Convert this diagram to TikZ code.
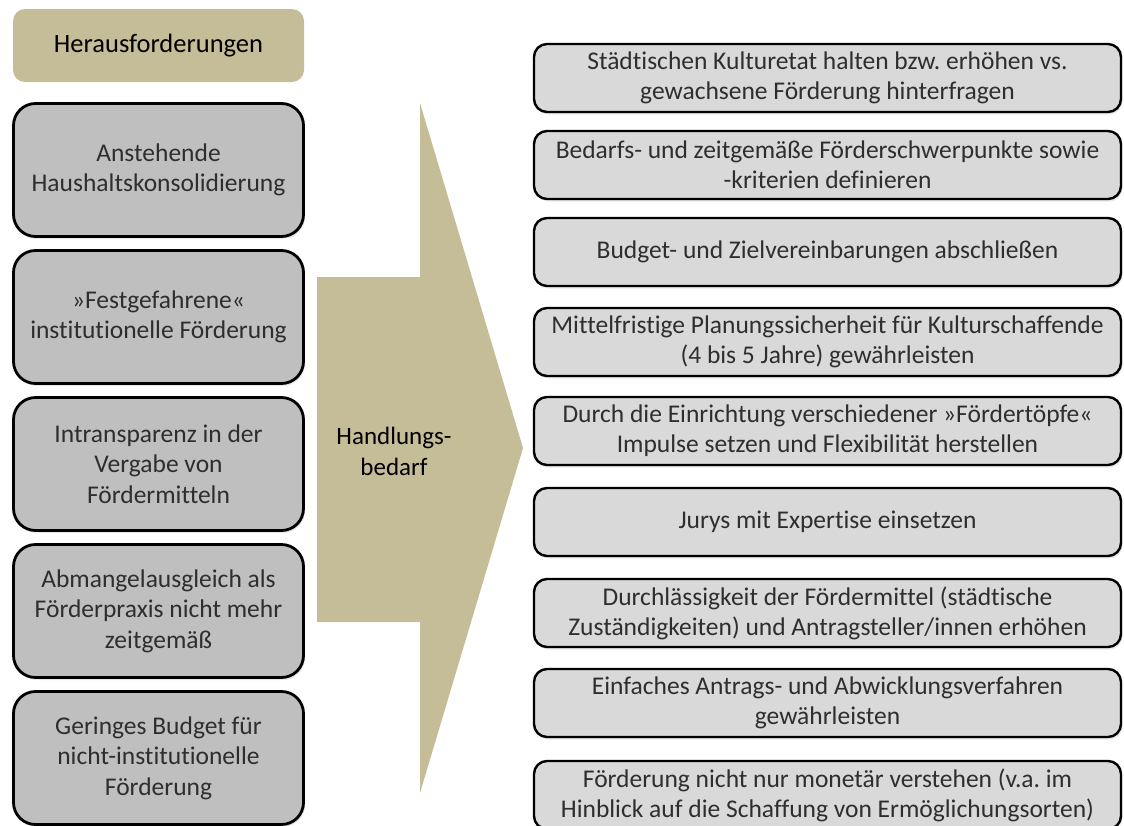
\documentclass[tikz,border=0pt]{standalone}
\usepackage{fontspec}
\setmainfont{Carlito}[Ligatures=NoCommon]
\frenchspacing
\usetikzlibrary{shadows}
\definecolor{headtan}{HTML}{C4BD97}
\definecolor{leftgray}{HTML}{BFBFBF}
\definecolor{rightgray}{HTML}{D9D9D9}
\definecolor{boxtext}{HTML}{2E2E2E}
\tikzset{
  headbox/.style={fill=headtan, rounded corners=12pt, minimum width=291pt, minimum height=73pt,
    inner sep=0pt, font=\fontsize{26.5}{30}\selectfont},
  leftbox/.style={draw=black, line width=2.8pt, fill=leftgray, rounded corners=22pt,
    minimum width=290pt, minimum height=133pt, inner sep=0pt, align=center, text=boxtext,
    font=\fontsize{25.5}{30.5}\selectfont,
    drop shadow={shadow xshift=1.5pt, shadow yshift=-2.5pt, opacity=0.18}},
  rightbox/.style={draw=black, line width=2.4pt, fill=rightgray, rounded corners=13pt,
    minimum width=587pt, minimum height=68pt, inner sep=0pt, align=center, text=boxtext,
    font=\fontsize{25.5}{30}\selectfont,
    drop shadow={shadow xshift=1.5pt, shadow yshift=-2.5pt, opacity=0.18}},
}

\begin{document}
\begin{tikzpicture}[x=1pt, y=-1pt, line join=round]
    \useasboundingbox (0,0) rectangle (1124,825);
    \clip (0,0) rectangle (1124,825);

    \node[headbox] (head) at (158.5,45.5) {Herausforderungen};

    \foreach \t [count=\i] in {
      {Anstehende\\Haushaltskonsolidierung},
      {»Festgefahrene«\\institutionelle Förderung},
      {Intransparenz in der\\Vergabe von\\Fördermitteln},
      {Abmangelausgleich als\\Förderpraxis nicht mehr\\zeitgemäß},
      {Geringes Budget für\\nicht-institutionelle\\Förderung}}
    {
    \node[leftbox] (l\i) at (158.5,{170+147*(\i-1)}) {\t};
    }

    \fill[headtan] (317,277) -- (420,277) -- (420,103) -- (523,448)
        -- (420,793) -- (420,622) -- (317,622) -- cycle;
    \node[align=center, font=\fontsize{25}{31}\selectfont] (need) at (394,451) {Handlungs-\\bedarf};

    \foreach \y/\t [count=\i] in {
      78/{Städtischen Kulturetat halten bzw. erhöhen vs.\\gewachsene Förderung hinterfragen},
      165/{Bedarfs- und zeitgemäße Förderschwerpunkte sowie\\-kriterien definieren},
      252/{Budget- und Zielvereinbarungen abschließen},
      342/{Mittelfristige Planungssicherheit für Kulturschaffende\\(4 bis 5 Jahre) gewährleisten},
      431/{Durch die Einrichtung verschiedener »Fördertöpfe«\\Impulse setzen und Flexibilität herstellen},
      522/{Jurys mit Expertise einsetzen},
      613/{Durchlässigkeit der Fördermittel (städtische\\Zuständigkeiten) und Antragsteller/innen erhöhen},
      703/{Einfaches Antrags- und Abwicklungsverfahren\\gewährleisten},
      795/{Förderung nicht nur monetär verstehen (v.a. im\\Hinblick auf die Schaffung von Ermöglichungsorten)}}
    {
    \node[rightbox] (r\i) at (827.5,\y) {\t};
    }
\end{tikzpicture}
\end{document}
